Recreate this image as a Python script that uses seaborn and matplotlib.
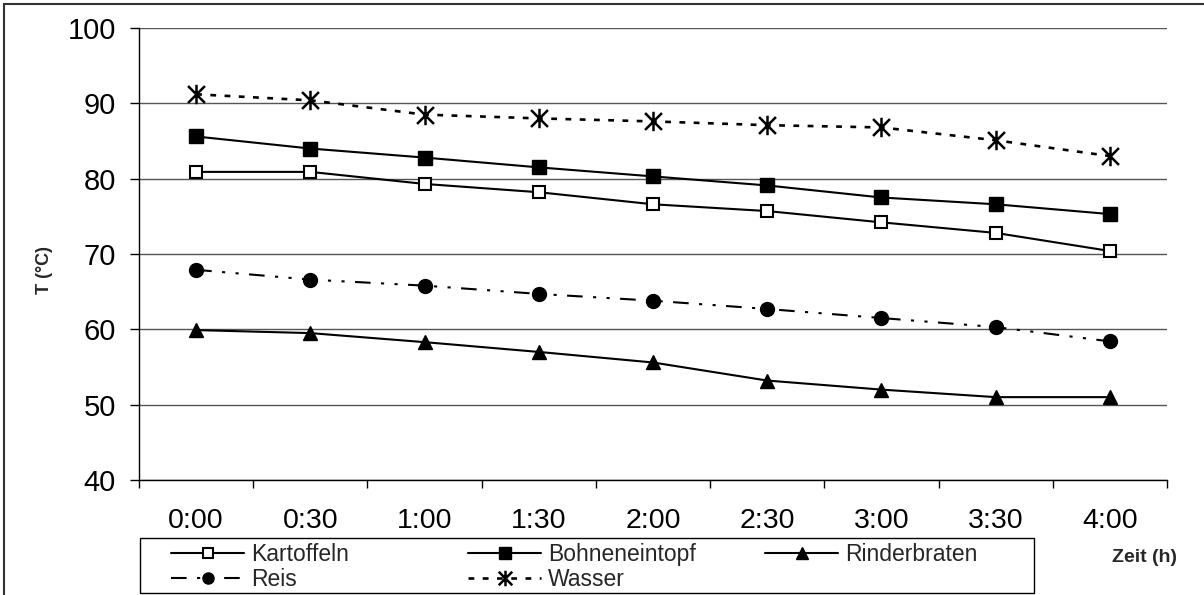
import matplotlib
matplotlib.use("Agg")
import matplotlib.pyplot as plt
import seaborn as sns
from matplotlib.patches import Rectangle
from matplotlib.path import Path
from matplotlib.ticker import FixedLocator

zeit = ["0:00", "0:30", "1:00", "1:30", "2:00", "2:30", "3:00", "3:30", "4:00"]
kartoffeln = [80.9, 80.9, 79.3, 78.2, 76.6, 75.7, 74.2, 72.8, 70.4]
bohneneintopf = [85.6, 84.0, 82.8, 81.5, 80.3, 79.1, 77.5, 76.6, 75.3]
rinderbraten = [59.9, 59.5, 58.3, 57.0, 55.6, 53.2, 52.0, 51.0, 51.0]
reis = [67.9, 66.6, 65.8, 64.7, 63.8, 62.7, 61.5, 60.3, 58.4]
wasser = [91.2, 90.4, 88.5, 88.0, 87.6, 87.1, 86.8, 85.1, 83.0]

sns.set_style("white")
plt.rcParams["font.family"] = ["Liberation Sans", "DejaVu Sans"]

# Stern wie in Excel: X plus senkrechter Strich
stern = Path([(-1, -1), (1, 1), (-1, 1), (1, -1), (0, -1.15), (0, 1.15)],
             [Path.MOVETO, Path.LINETO, Path.MOVETO, Path.LINETO, Path.MOVETO, Path.LINETO])

W, H = 1204, 595
fig = plt.figure(figsize=(W / 100, H / 100), dpi=100)
ax = fig.add_axes([139 / W, 1 - 480 / H, (1167 - 139) / W, (480 - 28) / H])

serien = [
    ("Kartoffeln", kartoffeln, dict(marker="s", markerfacecolor="white", markersize=9,
                                    markeredgewidth=1.5, linestyle="-", linewidth=1.5)),
    ("Bohneneintopf", bohneneintopf, dict(marker="s", markerfacecolor="black", markersize=10,
                                          markeredgewidth=1, linestyle="-", linewidth=1.5)),
    ("Rinderbraten", rinderbraten, dict(marker="^", markerfacecolor="black", markersize=10,
                                        markeredgewidth=1, linestyle="-", linewidth=1.5)),
    ("Reis", reis, dict(marker="o", markerfacecolor="black", markersize=10,
                        markeredgewidth=1, linestyle=(0, (7.5, 5, 1.5, 5, 1.5, 5)),
                        linewidth=1.5)),
    ("Wasser", wasser, dict(marker=stern, markersize=14, markeredgewidth=1.8,
                            linestyle=(0, (2.2, 3.2)), linewidth=1.9)),
]

for name, werte, stil in serien:
    sns.lineplot(x=zeit, y=werte, ax=ax, color="black", markeredgecolor="black",
                 label=name, legend=False, **stil)

ax.set_xlim(-0.5, len(zeit) - 0.5)
ax.set_ylim(40, 100)
ax.set_yticks(range(40, 101, 10))
ax.yaxis.grid(True, color="#555555", linewidth=1)
ax.xaxis.grid(False)
for s in ["top", "right"]:
    ax.spines[s].set_visible(False)
for s in ["left", "bottom"]:
    ax.spines[s].set_color("black")
    ax.spines[s].set_linewidth(1)

ax.set_xticks(range(len(zeit)))
ax.set_xticklabels(zeit)
ax.xaxis.set_minor_locator(FixedLocator([i - 0.5 for i in range(len(zeit) + 1)]))
ax.tick_params(axis="x", which="major", length=0, pad=20, labelsize=20.5, colors="black")
ax.tick_params(axis="x", which="minor", length=6, width=1, direction="out",
               bottom=True, color="black")
ax.tick_params(axis="y", which="major", length=6.5, width=1, direction="out",
               left=True, pad=10, labelsize=21, colors="black")
ax.set_xlabel("")
ax.set_ylabel("")

fig.text(44 / W, 1 - 270 / H, "T (°C)", rotation=90, ha="center", va="center",
         fontsize=13, fontweight="bold")
fig.text(1144 / W, 1 - 557 / H, "Zeit (h)", ha="center", va="center",
         fontsize=14, fontweight="bold")

# Legende: drei Spalten mit festem Abstand, eigener Rahmen
handles, labels = ax.get_legend_handles_labels()
lookup = dict(zip(labels, handles))
spalten = [(171, ["Kartoffeln", "Reis"]), (468, ["Bohneneintopf", "Wasser"]),
           (765, ["Rinderbraten"])]
for x0, namen in spalten:
    fig.legend([lookup[n] for n in namen], namen, loc="upper left",
               bbox_to_anchor=(x0 / W, 1 - 543 / H), frameon=False, fontsize=16.5,
               borderpad=0, borderaxespad=0, handlelength=3.2, handletextpad=0.3,
               labelspacing=0.1, markerscale=0.8)

fig.patches.append(Rectangle((140 / W, 1 - 593 / H), (1034 - 140) / W, (593 - 538) / H,
                             transform=fig.transFigure, fill=False, edgecolor="black",
                             linewidth=1))
fig.patches.append(Rectangle((4 / W, -0.05), 1.1, 1 - 4 / H + 0.05,
                             transform=fig.transFigure, fill=False, edgecolor="#333333",
                             linewidth=1.5))

fig.savefig("out.png", dpi=100)
